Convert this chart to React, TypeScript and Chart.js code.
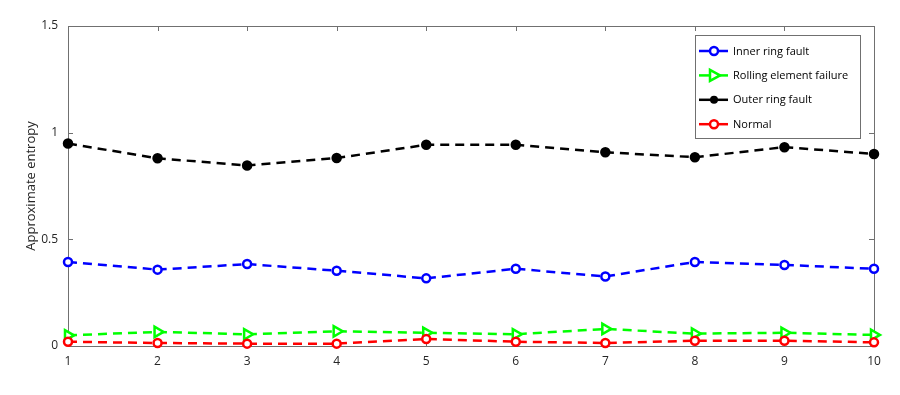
import React, { useEffect, useRef } from "react";
import { Chart, registerables } from "chart.js";

Chart.register(...registerables);

const xValues = [1, 2, 3, 4, 5, 6, 7, 8, 9, 10];
const seriesLabels = ["Inner ring fault", "Rolling element failure", "Outer ring fault", "Normal"];
const innerRing = [0.394, 0.358, 0.384, 0.353, 0.317, 0.362, 0.326, 0.394, 0.38, 0.362];
const rollingElement = [0.05, 0.066, 0.055, 0.069, 0.062, 0.055, 0.08, 0.058, 0.062, 0.052];
const outerRing = [0.949, 0.88, 0.846, 0.881, 0.943, 0.943, 0.908, 0.885, 0.932, 0.9];
const normal = [0.02, 0.014, 0.011, 0.011, 0.033, 0.02, 0.014, 0.025, 0.025, 0.017];
const yTicks = [0, 0.5, 1, 1.5];
const yTickLabels = ["0", "0.5", "1", "1.5"];
const yTitle = "Approximate entropy";

const FONT = "'Open Sans', sans-serif";
const AXIS_COLOR = "#707070";
const TEXT_COLOR = "#262626";

type Marker = { style: "circleOpen" | "circleFilled" | "triangleRight"; color: string };
const markers: Marker[] = [
  { style: "circleOpen", color: "#0000ff" },
  { style: "triangleRight", color: "#00ff00" },
  { style: "circleFilled", color: "#000000" },
  { style: "circleOpen", color: "#ff0000" },
];

function drawMarker(ctx: CanvasRenderingContext2D, m: Marker, x: number, y: number) {
  ctx.save();
  ctx.setLineDash([]);
  ctx.lineWidth = 2.5;
  ctx.strokeStyle = m.color;
  ctx.fillStyle = m.color;
  if (m.style === "triangleRight") {
    ctx.beginPath();
    ctx.moveTo(x + 6, y);
    ctx.lineTo(x - 4, y - 5.5);
    ctx.lineTo(x - 4, y + 5.5);
    ctx.closePath();
    ctx.fillStyle = "#fff";
    ctx.fill();
    ctx.stroke();
  } else {
    ctx.beginPath();
    ctx.arc(x, y, 4, 0, Math.PI * 2);
    if (m.style === "circleFilled") {
      ctx.fill();
    } else {
      ctx.fillStyle = "#fff";
      ctx.fill();
      ctx.stroke();
    }
  }
  ctx.restore();
}

const boxPlugin = {
  id: "boxTicks",
  beforeDatasetsDraw(chart: any) {
    const { ctx, chartArea: a, scales } = chart;
    const xs = scales.x;
    const ys = scales.y;
    ctx.save();
    ctx.strokeStyle = AXIS_COLOR;
    ctx.lineWidth = 1;
    ctx.setLineDash([]);
    ctx.strokeRect(Math.round(a.left) + 0.5, Math.round(a.top) + 0.5, Math.round(a.right - a.left), Math.round(a.bottom - a.top));
    const tl = 5;
    ctx.beginPath();
    xValues.forEach((v) => {
      const px = Math.round(xs.getPixelForValue(v)) + 0.5;
      ctx.moveTo(px, a.bottom);
      ctx.lineTo(px, a.bottom - tl);
      ctx.moveTo(px, a.top);
      ctx.lineTo(px, a.top + tl);
    });
    yTicks.forEach((v) => {
      const py = Math.round(ys.getPixelForValue(v)) + 0.5;
      ctx.moveTo(a.left, py);
      ctx.lineTo(a.left + tl, py);
      ctx.moveTo(a.right, py);
      ctx.lineTo(a.right - tl, py);
    });
    ctx.stroke();
    ctx.restore();
  },
  afterDraw(chart: any) {
    const { ctx } = chart;
    const bx = 695.5, by = 35.5, bw = 165, bh = 103;
    ctx.save();
    ctx.fillStyle = "#fff";
    ctx.fillRect(bx, by, bw, bh);
    ctx.strokeStyle = AXIS_COLOR;
    ctx.lineWidth = 1;
    ctx.strokeRect(bx, by, bw, bh);
    seriesLabels.forEach((label, i) => {
      const y = 51 + i * 24.4;
      const m = markers[i];
      ctx.strokeStyle = m.color;
      ctx.lineWidth = 2.5;
      ctx.setLineDash([]);
      ctx.beginPath();
      ctx.moveTo(699, y);
      ctx.lineTo(728, y);
      ctx.stroke();
      drawMarker(ctx, m, 714, y);
      ctx.fillStyle = "#000";
      ctx.font = `11px ${FONT}`;
      ctx.textAlign = "left";
      ctx.textBaseline = "middle";
      ctx.fillText(label, 733, y + 0.5);
    });
    ctx.restore();
  },
};

export default function App() {
  const ref = useRef<HTMLCanvasElement>(null);
  useEffect(() => {
    const series = [innerRing, rollingElement, outerRing, normal];
    const datasets = series.map((vals, i) => {
      const m = markers[i];
      return {
        label: seriesLabels[i],
        data: vals.map((v, j) => ({ x: xValues[j], y: v })),
        borderColor: m.color,
        backgroundColor: m.style === "circleFilled" ? m.color : "#ffffff",
        borderWidth: 2.5,
        borderDash: [9, 6],
        tension: 0,
        pointStyle: m.style === "triangleRight" ? "triangle" : "circle",
        pointRotation: m.style === "triangleRight" ? 90 : 0,
        pointRadius: m.style === "triangleRight" ? 6 : 4,
        pointBorderWidth: 2.5,
        pointBorderColor: m.color,
        pointBackgroundColor: m.style === "circleFilled" ? m.color : "#ffffff",
        order: 3 - i,
        clip: false as any,
      };
    });
    const chart = new Chart(ref.current!, {
      type: "line",
      data: { datasets: datasets as any },
      options: {
        animation: false,
        responsive: false,
        events: [],
        layout: { padding: { left: 0, top: 26, right: 26, bottom: 0 } },
        plugins: { legend: { display: false }, tooltip: { enabled: false } },
        scales: {
          x: {
            type: "linear",
            min: 1,
            max: 10,
            grid: { display: false, drawTicks: false },
            border: { display: false },
            afterFit: (s: any) => { s.height = 49; },
            ticks: {
              stepSize: 1,
              padding: 8,
              color: TEXT_COLOR,
              font: { family: FONT, size: 12 },
            },
          },
          y: {
            min: 0,
            max: 1.5,
            grid: { display: false, drawTicks: false },
            border: { display: false },
            afterFit: (s: any) => { s.width = 68; },
            afterBuildTicks: (s: any) => { s.ticks = yTicks.map((v) => ({ value: v })); },
            ticks: {
              padding: 10,
              color: TEXT_COLOR,
              font: { family: FONT, size: 12 },
              callback: (v: any) => {
                const idx = yTicks.indexOf(Number(v));
                return idx >= 0 ? yTickLabels[idx] : "";
              },
            },
            title: {
              display: true,
              text: yTitle,
              color: TEXT_COLOR,
              font: { family: FONT, size: 13 },
              padding: { top: 23, bottom: 4 },
            },
          },
        },
      },
      plugins: [boxPlugin],
    });
    return () => chart.destroy();
  }, []);
  return (
    <div style={{ position: "fixed", left: 0, top: 0, width: 900, height: 395, background: "#fff" }}>
      <canvas ref={ref} width={900} height={395} style={{ display: "block", width: 900, height: 395 }} />
    </div>
  );
}
